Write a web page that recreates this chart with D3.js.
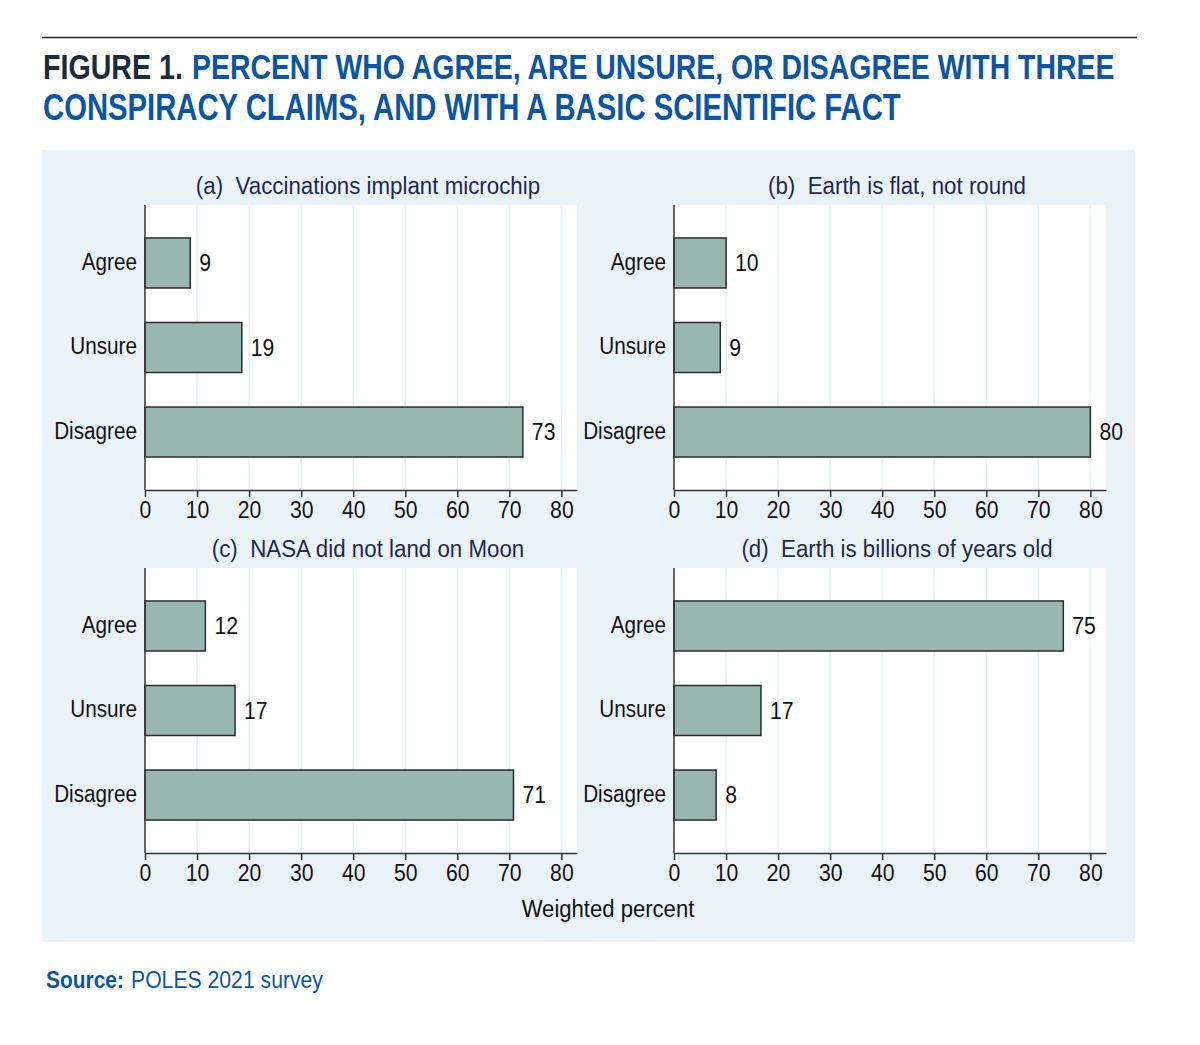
<!DOCTYPE html>
<html><head><meta charset="utf-8">
<script src="https://cdn.jsdelivr.net/npm/d3@7"></script>
<style>body{margin:0;background:#fff}svg{display:block}text{font-family:"Liberation Sans",Arial,sans-serif}</style>
</head><body>
<script>
const categories = ["Agree", "Unsure", "Disagree"];
const panelTitles = ["(a)  Vaccinations implant microchip", "(b)  Earth is flat, not round", "(c)  NASA did not land on Moon", "(d)  Earth is billions of years old"];
const valuesA = [8.7, 18.6, 72.6];
const valuesB = [10.0, 8.9, 80.0];
const valuesC = [11.6, 17.3, 70.8];
const valuesD = [74.8, 16.7, 8.1];
const xTicks = [0, 10, 20, 30, 40, 50, 60, 70, 80];
const titleLabel = "FIGURE 1.";
const titleLine1 = "PERCENT WHO AGREE, ARE UNSURE, OR DISAGREE WITH THREE";
const titleLine2 = "CONSPIRACY CLAIMS, AND WITH A BASIC SCIENTIFIC FACT";
const xAxisTitle = "Weighted percent";
const sourceLabel = "Source:";
const sourceText = "POLES 2021 survey";

const W = 1200, H = 1045;
const svg = d3.select("body").append("svg").attr("width", W).attr("height", H);
const blue = "#0b55a3";

// place text at (x,y) and horizontally scale it to width w
function placeFit(text, x, y, w) {
  const n = text.node().getComputedTextLength();
  text.attr("x", 0).attr("y", 0).attr("transform", `translate(${x},${y}) scale(${w / n},1)`);
}
function condense(sel, f) {
  sel.each(function () {
    const w = this.getComputedTextLength();
    d3.select(this).attr("textLength", w * f).attr("lengthAdjust", "spacingAndGlyphs");
  });
}

svg.append("line").attr("x1", 42).attr("x2", 1137).attr("y1", 37.5).attr("y2", 37.5).attr("stroke", "#222").attr("stroke-width", 1.5);
const t0 = svg.append("text").attr("font-size", 36).attr("font-weight", "bold").attr("fill", "#1c2b3a").text(titleLabel);
placeFit(t0, 43, 79, 140);
const t1 = svg.append("text").attr("font-size", 36).attr("font-weight", "bold").attr("fill", blue).text(titleLine1);
placeFit(t1, 192, 79, 923);
const t2 = svg.append("text").attr("font-size", 36).attr("font-weight", "bold").attr("fill", blue).text(titleLine2);
placeFit(t2, 43, 120, 858);

svg.append("rect").attr("x", 42).attr("y", 150).attr("width", 1093).attr("height", 792).attr("fill", "#e9f2f6");

const panels = [
  {vals: valuesA, x0: 145, y0: 205, title: panelTitles[0]},
  {vals: valuesB, x0: 674, y0: 205, title: panelTitles[1]},
  {vals: valuesC, x0: 145, y0: 568, title: panelTitles[2]},
  {vals: valuesD, x0: 674, y0: 568, title: panelTitles[3]}
];
const pw = 432, ph = 285;
const x = d3.scaleLinear().domain([0, 83]).range([0, pw]);
const y = d3.scalePoint().domain(categories).range([0, ph]).padding(0.686);
const barH = 50;

panels.forEach(p => {
  const g = svg.append("g").attr("transform", `translate(${p.x0},${p.y0})`);
  g.append("rect").attr("width", pw).attr("height", ph).attr("fill", "#fff");
  g.selectAll("line.grid").data(xTicks.slice(1)).join("line").attr("class", "grid")
    .attr("x1", d => x(d)).attr("x2", d => x(d)).attr("y1", 0).attr("y2", ph)
    .attr("stroke", "#e6eff3").attr("stroke-width", 1.5);
  const tt = g.append("text").attr("x", pw / 2 + 7).attr("y", -11).attr("text-anchor", "middle")
    .attr("font-size", 23).attr("fill", "#1e2a48").attr("xml:space", "preserve").text(p.title);
  condense(tt, 0.97);
  g.selectAll("rect.bar").data(p.vals).join("rect").attr("class", "bar")
    .attr("x", 0).attr("y", (d, i) => y(categories[i]) - barH / 2)
    .attr("width", d => x(d)).attr("height", barH)
    .attr("fill", "#98b7af").attr("stroke", "#2b2b2b").attr("stroke-width", 1.5);
  const vl = g.selectAll("text.val").data(p.vals).join("text").attr("class", "val")
    .attr("x", d => x(d) + 9).attr("y", (d, i) => y(categories[i]) + 8)
    .attr("font-size", 23).attr("fill", "#111").text(d => d3.format(".0f")(d));
  condense(vl, 0.92);
  const ya = g.append("g").call(d3.axisLeft(y).tickSize(0).tickPadding(8));
  ya.select(".domain").attr("stroke", "#333").attr("stroke-width", 1.5).attr("d", `M0,0V${ph}`);
  ya.selectAll("text").attr("font-size", 23).attr("fill", "#111").attr("font-family", null).attr("dy", "0.28em");
  condense(ya.selectAll("text"), 0.9);
  const xa = g.append("g").attr("transform", `translate(0,${ph})`)
    .call(d3.axisBottom(x).tickValues(xTicks).tickSize(7).tickPadding(5).tickSizeOuter(0));
  xa.select(".domain").attr("stroke", "#333").attr("stroke-width", 1.5);
  xa.selectAll(".tick line").attr("stroke", "#333").attr("stroke-width", 1.5);
  xa.selectAll("text").attr("font-size", 23).attr("fill", "#111").attr("font-family", null);
  condense(xa.selectAll("text"), 0.92);
});

const at = svg.append("text").attr("x", 608).attr("y", 917).attr("text-anchor", "middle").attr("font-size", 23).attr("fill", "#111").text(xAxisTitle);
condense(at, 0.96);

const s0 = svg.append("text").attr("font-size", 23).attr("font-weight", "bold").attr("fill", blue).text(sourceLabel);
placeFit(s0, 46, 988, 78);
const s1 = svg.append("text").attr("font-size", 23).attr("fill", blue).text(sourceText);
placeFit(s1, 131, 988, 192);
</script>
</body></html>
